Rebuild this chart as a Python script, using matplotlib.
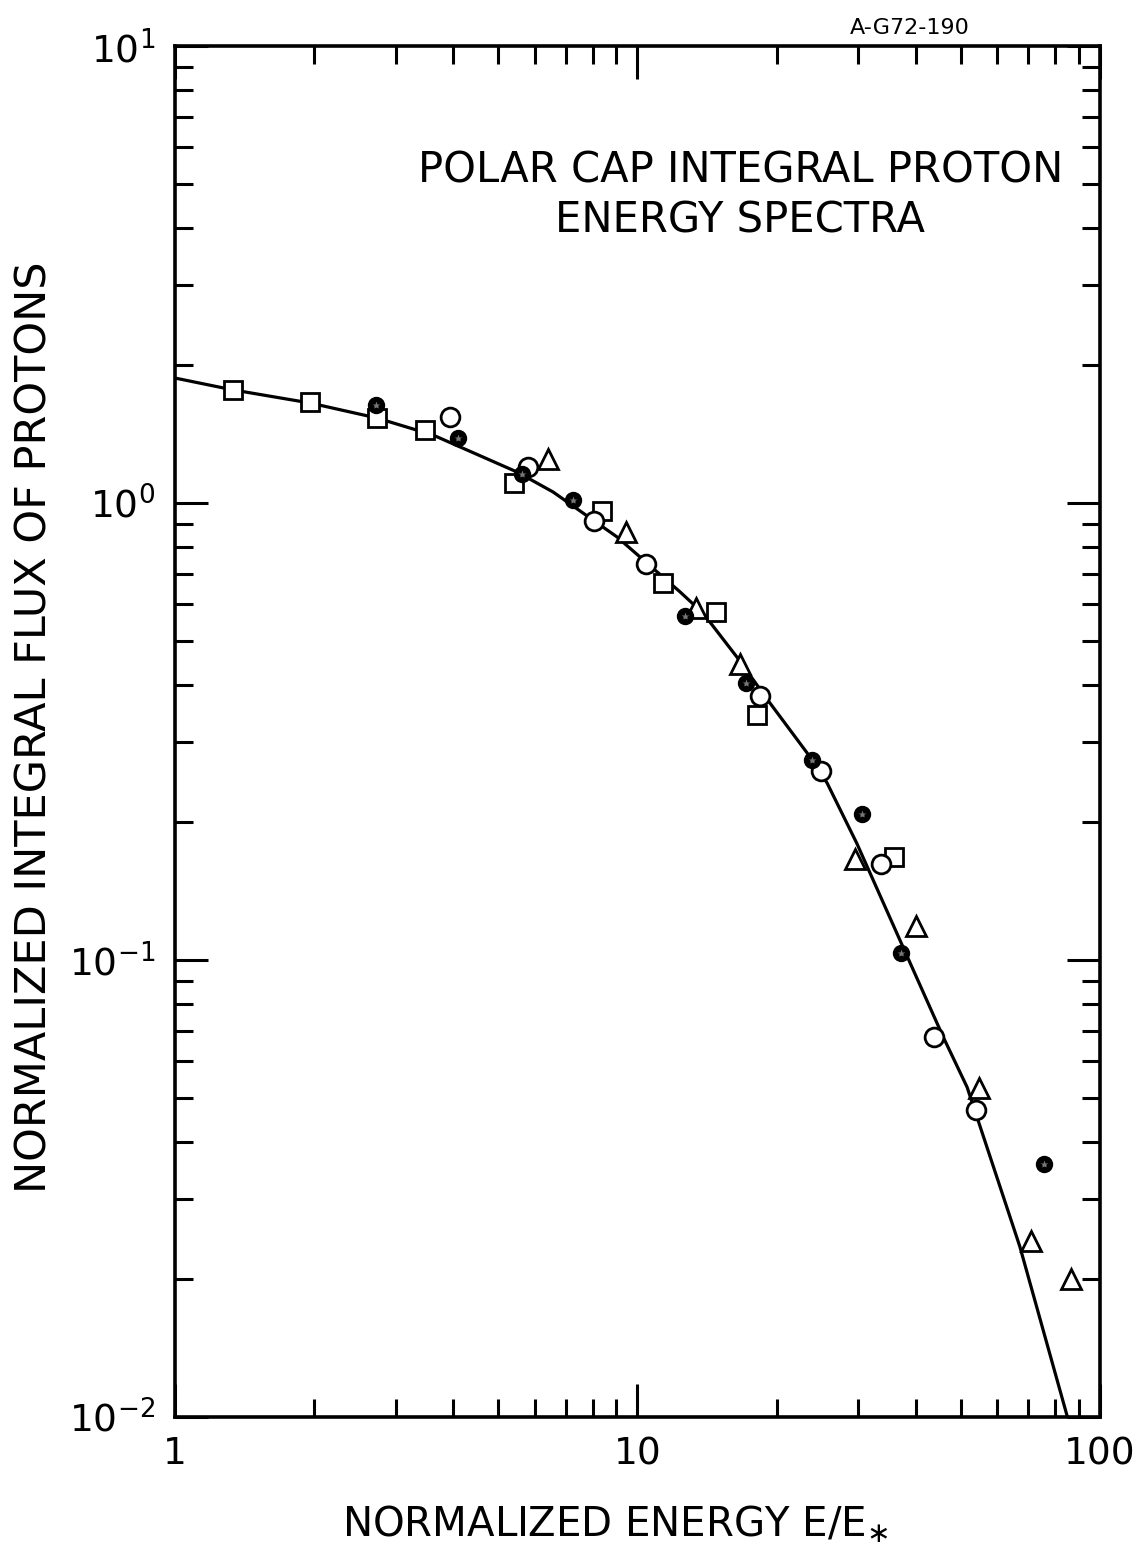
import matplotlib.pyplot as plt
from matplotlib.ticker import LogLocator, NullFormatter, FixedLocator

# open squares
sq_x = [1.335, 1.96, 2.73, 3.47, 5.41, 8.38, 11.36, 14.78, 18.1, 35.9]
sq_y = [1.77, 1.66, 1.535, 1.445, 1.106, 0.96, 0.668, 0.577, 0.344, 0.168]

# open circles
oc_x = [3.93, 5.80, 8.05, 10.43, 18.4, 24.9, 33.6, 43.8, 53.9]
oc_y = [1.54, 1.20, 0.914, 0.736, 0.378, 0.259, 0.162, 0.0679, 0.047]

# open triangles
tr_x = [6.41, 9.44, 13.38, 16.7, 29.5, 40.0, 54.7, 71.0, 86.6]
tr_y = [1.25, 0.865, 0.589, 0.444, 0.166, 0.1187, 0.0525, 0.0243, 0.0200]

# filled (starred) circles
fc_x = [2.72, 4.09, 5.63, 7.25, 12.67, 17.2, 23.8, 30.6, 37.1, 75.7]
fc_y = [1.64, 1.39, 1.16, 1.015, 0.566, 0.404, 0.274, 0.2087, 0.1036, 0.0358]

# hand-drawn fit curve
fit_x = [1.0, 1.335, 1.96, 2.73, 3.61, 5.49, 6.57, 9.03, 12.36, 13.86, 16.41,
         19.34, 23.26, 25.7, 29.8, 37.5, 45.8, 51.6, 67.1, 84.8]
fit_y = [1.877, 1.768, 1.655, 1.535, 1.409, 1.169, 1.057, 0.843, 0.639, 0.574,
         0.460, 0.365, 0.284, 0.244, 0.180, 0.1068, 0.0679, 0.0527, 0.0236,
         0.0101]

plt.rcParams['font.family'] = ['DejaVu Sans']
fig = plt.figure(figsize=(11.42, 15.6), dpi=100)
ax = fig.add_axes([0.1532, 0.0917, 0.81, 0.8788])

ax.plot(fit_x, fit_y, color='black', lw=2.3, zorder=2)
mk = dict(ls='none', mfc='white', mec='black', mew=2.0, zorder=3)
ax.plot(sq_x, sq_y, marker='s', ms=12.5, **mk)
ax.plot(oc_x, oc_y, marker='o', ms=13.5, **mk)
ax.plot(tr_x, tr_y, marker='^', ms=14.5, **mk)
ax.plot(fc_x, fc_y, ls='none', marker='o', ms=11.5, mfc='black', mec='black',
        zorder=4)
ax.plot(fc_x, fc_y, ls='none', marker='*', ms=6, mfc='#777777', mec='none',
        zorder=5)

ax.set_xscale('log')
ax.set_yscale('log')
ax.set_xlim(1, 100)
ax.set_ylim(0.01, 10)

ax.xaxis.set_major_locator(FixedLocator([1, 10, 100]))
ax.set_xticklabels(['1', '10', '100'])
ax.xaxis.set_minor_locator(LogLocator(base=10, subs=range(2, 10)))
ax.xaxis.set_minor_formatter(NullFormatter())
ax.yaxis.set_major_locator(FixedLocator([0.01, 0.1, 1, 10]))
ax.set_yticklabels(['$10^{-2}$', '$10^{-1}$', '$10^{0}$', '$10^{1}$'])
ax.yaxis.set_minor_locator(LogLocator(base=10, subs=range(2, 10)))
ax.yaxis.set_minor_formatter(NullFormatter())

ax.tick_params(which='both', direction='in', top=True, right=True,
               width=2.2, labelsize=27)
ax.tick_params(which='major', length=24, pad=14)
ax.tick_params(which='minor', length=13)
for s in ax.spines.values():
    s.set_linewidth(2.6)

ax.text(0.611, 0.891, 'POLAR CAP INTEGRAL PROTON\nENERGY SPECTRA',
        transform=ax.transAxes, ha='center', va='center', fontsize=30,
        linespacing=1.25)
fig.text(0.797, 0.982, 'A-G72-190', ha='center', va='center', fontsize=16)

fig.text(0.0306, 0.534, 'NORMALIZED INTEGRAL FLUX OF PROTONS', rotation=90,
         ha='center', va='center', fontsize=31)
fig.text(0.539, 0.0224, 'NORMALIZED ENERGY E/E$_{\\ast}$', ha='center',
         va='center', fontsize=29)

fig.savefig('out.png', dpi=100)
